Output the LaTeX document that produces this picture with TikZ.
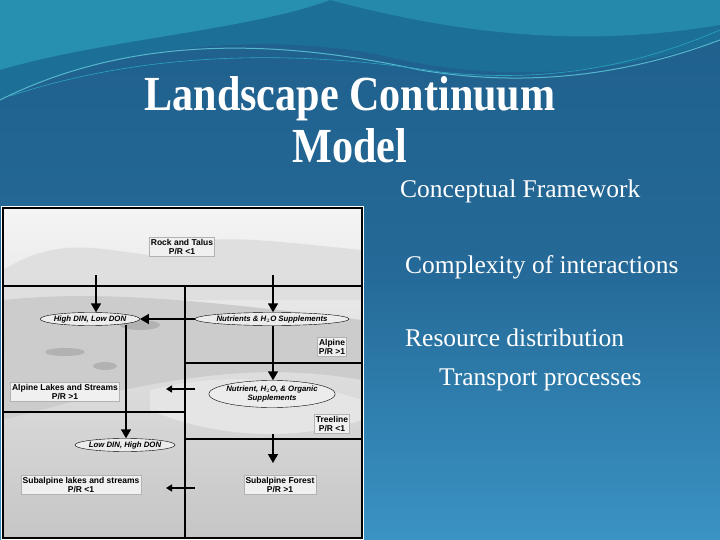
\documentclass[tikz,border=0pt]{standalone}
\usepackage{fontspec}
\setmainfont{Liberation Serif}
\setsansfont{Liberation Sans}
\usetikzlibrary{shapes.geometric,arrows.meta}
\definecolor{bgA}{HTML}{1F5F8C}
\definecolor{bgB}{HTML}{3A93C4}
\definecolor{swA}{HTML}{2AA5C0}
\definecolor{swB}{HTML}{1C6F96}
\tikzset{
  lbl/.style={draw=gray!60, fill=gray!12, font=\sffamily\bfseries\fontsize{8.5}{9.5}\selectfont, align=center, inner sep=1.5pt},
  ell/.style={ellipse, draw=black, fill=gray!15, font=\sffamily\bfseries\itshape\fontsize{7.8}{9}\selectfont, align=center, inner sep=-1pt},
  bar/.style={line width=1.6pt},
  arr/.style={line width=1.6pt, -{Triangle[length=9pt,width=10pt]}},
  sarr/.style={line width=1.4pt, -{Triangle[length=6pt,width=7pt]}},
  bul/.style={text=white, font=\fontsize{25.5}{28}\selectfont, anchor=base west, inner sep=0pt}
}
\begin{document}
\begin{tikzpicture}[x=1pt,y=-1pt]
\useasboundingbox (0,0) rectangle (720,540);
\shade[top color=bgA, bottom color=bgB, middle color=bgA!80!bgB] (0,0) rectangle (720,540);
% swooshes
\fill[swB] (0,0) -- (720,0) -- (720,40) .. controls (600,80) and (480,80) .. (380,55) .. controls (250,30) and (100,50) .. (0,100) -- cycle;
\fill[swA!70!bgA] (0,0) -- (330,0) .. controls (250,30) and (100,40) .. (0,70) -- cycle;
\fill[swA!60!bgA] (330,0) -- (720,0) -- (720,25) .. controls (600,45) and (480,40) .. (330,0) -- cycle;
\draw[swA!80!white, line width=1pt] (0,100) .. controls (120,40) and (260,35) .. (420,70) .. controls (540,90) and (640,70) .. (720,40);
\draw[swA, line width=0.6pt] (10,96) .. controls (150,50) and (300,50) .. (440,72) .. controls (560,85) and (650,60) .. (720,30);
% title
\node[text=white, font=\bfseries\fontsize{49}{52}\selectfont, align=center, xscale=0.86] (title) at (350,120) {Landscape Continuum\\Model};
% bullets
\node[bul] (b1) at (400,197) {Conceptual Framework};
\node[bul] (b2) at (405,273) {Complexity of interactions};
\node[bul] (b3) at (405,346) {Resource distribution};
\node[bul] (b4) at (439,385) {Transport processes};
% photo
\fill[white] (1,206) rectangle (364,540);
\shade[top color=gray!8, bottom color=gray!45] (3,208) rectangle (362,538);
\fill[gray!25] (3,270) .. controls (60,235) and (100,250) .. (150,255) .. controls (200,230) and (260,240) .. (362,250) -- (362,300) -- (3,300) -- cycle;
\fill[gray!40] (3,300) .. controls (100,290) and (200,300) .. (362,320) -- (362,380) .. controls (250,360) and (150,380) .. (3,420) -- cycle;
\fill[gray!60] (65,352) ellipse (20pt and 4pt);
\fill[gray!60] (105,366) ellipse (12pt and 4pt);
\fill[gray!60] (140,325) ellipse (20pt and 5pt);
\fill[gray!20] (150,390) .. controls (230,370) and (300,380) .. (362,400) -- (362,420) .. controls (300,440) and (220,440) .. (150,410) -- cycle;
\draw[black, line width=1.4pt] (3,208) rectangle (362,538);
% grid lines
\coordinate (tl) at (3,286); \coordinate (tr) at (362,286);
\coordinate (vt) at (185,286); \coordinate (vb) at (185,538);
\coordinate (r1l) at (185,363); \coordinate (r1r) at (362,363);
\coordinate (l1l) at (3,412); \coordinate (l1r) at (185,412);
\coordinate (r2l) at (185,439); \coordinate (r2r) at (362,439);
\draw[bar] (tl) -- (tr);
\draw[bar] (vt) -- (vb);
\draw[bar] (r1l) -- (r1r);
\draw[bar] (l1l) -- (l1r);
\draw[bar] (r2l) -- (r2r);
% labels
\node[lbl] (rock) at (182,247) {Rock and Talus\\P/R <1};
\node[lbl] (alp) at (332,347) {Alpine\\P/R >1};
\node[lbl] (alake) at (65,392) {Alpine Lakes and Streams\\P/R >1};
\node[lbl] (tree) at (332,424) {Treeline\\P/R <1};
\node[lbl] (slake) at (81,485) {Subalpine lakes and streams\\P/R <1};
\node[lbl] (sfor) at (280,485) {Subalpine Forest\\P/R >1};
% ellipses
\node[ell, minimum width=97pt, minimum height=13pt] (hdin) at (90,319) {High DIN, Low DON};
\node[ell, minimum width=145pt, minimum height=13pt] (nut) at (272,319) {Nutrients \& H$_2$O Supplements};
\node[ell, minimum width=125pt, minimum height=27pt] (nuto) at (272,394) {Nutrient, H$_2$O, \& Organic\\Supplements};
\node[ell, minimum width=100pt, minimum height=13pt] (ldin) at (125,445) {Low DIN, High DON};
% arrows
\coordinate (a1s) at (96,275);
\coordinate (a2s) at (273,275);
\draw[arr] (a1s) -- (hdin.north -| a1s);
\draw[arr] (a2s) -- (nut.north -| a2s);
\draw[arr] (nut.west) -- (hdin.east);
\draw[arr] (nut.south -| a2s) -- (nuto.north -| a2s);
\coordinate (hb) at (126,325);
\draw[arr] (hb) -- (ldin.north -| hb);
\coordinate (s1a) at (195,389); \coordinate (s1b) at (166,389);
\draw[sarr] (s1a) -- (s1b);
\coordinate (tt) at (273,434); \coordinate (tb) at (273,463);
\draw[arr] (tt) -- (tb);
\coordinate (s2a) at (195,488); \coordinate (s2b) at (166,488);
\draw[sarr] (s2a) -- (s2b);
\end{tikzpicture}
\end{document}
